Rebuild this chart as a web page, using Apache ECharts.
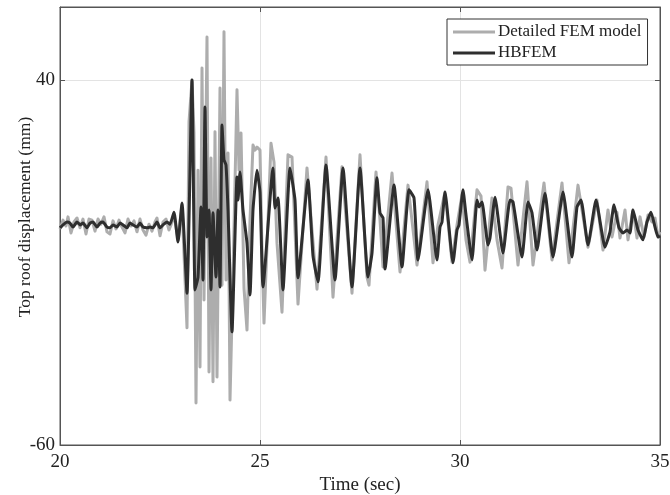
<!DOCTYPE html>
<html>
<head>
<meta charset="utf-8">
<script src="https://cdn.jsdelivr.net/npm/echarts@6/dist/echarts.min.js"></script>
<style>html,body{margin:0;padding:0;background:#fff}#c{width:670px;height:495px}</style>
</head>
<body>
<div id="c"></div>
<script>
// Detailed FEM model (time s, displacement mm)
const tDetailed = [20.0,20.075,20.15,20.2,20.275,20.35,20.425,20.5,20.575,20.65,20.725,20.8,20.875,20.95,21.025,21.1,21.175,21.25,21.325,21.4,21.475,21.55,21.625,21.7,21.775,21.85,21.925,22.0,22.075,22.15,22.225,22.3,22.375,22.425,22.5,22.575,22.65,22.725,22.775,22.85,22.95,23.05,23.175,23.225,23.3,23.35,23.4,23.45,23.5,23.55,23.6,23.675,23.725,23.775,23.825,23.875,23.925,24.0,24.05,24.1,24.15,24.2,24.25,24.325,24.425,24.475,24.525,24.6,24.675,24.75,24.825,24.875,24.925,25.0,25.05,25.1,25.275,25.35,25.425,25.55,25.7,25.8,25.95,26.175,26.3,26.425,26.65,26.825,27.05,27.3,27.5,27.675,27.725,27.9,28.0,28.075,28.3,28.5,28.7,28.925,29.175,29.325,29.45,29.625,29.8,29.925,30.05,30.15,30.25,30.425,30.525,30.625,30.8,30.925,31.05,31.2,31.275,31.45,31.675,31.825,32.1,32.3,32.55,32.725,32.95,33.2,33.425,33.575,33.7,33.8,33.925,34.0,34.125,34.2,34.325,34.425,34.5,34.6,34.7,34.8,34.875,34.95,35.0];
const vDetailed = [-0.8,1.6,0,2.5,-1.9,1.1,2.2,-0.5,1.9,-2.2,1.9,1.6,-1.4,1.9,0.5,2.5,-1.6,-2.2,1.4,-0.8,1.6,-0.3,-1.9,1.9,0,1.4,-1.6,1.9,-1.1,-2.5,0.5,-1.4,1.1,2.2,-2.7,1.1,1.9,-1.1,0.3,3.0,-3.8,5.8,-27.9,28.5,40.0,25.5,-48.5,15.3,-38.6,43.3,-20.3,51.8,-40.0,18.6,-42.7,25.8,-41.4,37.8,-16.2,53.2,-14.8,20.0,-47.7,-13.4,37.3,15.3,25.5,-17.0,-28.5,1.6,22.2,20.8,21.6,20.8,-6.6,-26.6,22.7,17.5,-4.7,-23.6,19.5,18.9,-21.4,15.9,-1.1,-17.3,18.9,-19.5,16.2,-18.4,19.5,-14.0,-16.2,14.8,1.6,-11.2,14.5,-12.6,11.2,-10.7,12.1,-10.1,0.3,9.3,-9.9,0.3,8.5,-3.8,-9.9,9.9,8.2,-12.1,7.7,-3.8,-11.5,10.7,10.4,-10.7,12.1,-10.7,11.8,-9.3,11.8,-10.1,11.2,-5.8,7.1,-6.6,4.4,-3.0,3.8,-3.3,4.4,-3.8,4.4,-3.3,2.5,-3.0,3.0,1.1,2.2,-3.0,-1.6];

// HBFEM (time s, displacement mm)
const tHBFEM = [20.0,20.075,20.175,20.25,20.325,20.425,20.5,20.575,20.675,20.75,20.825,20.925,21.0,21.075,21.175,21.25,21.325,21.425,21.5,21.575,21.675,21.75,21.825,21.925,22.0,22.075,22.175,22.25,22.325,22.425,22.5,22.575,22.675,22.75,22.85,22.95,23.05,23.175,23.3,23.375,23.45,23.525,23.575,23.625,23.675,23.725,23.775,23.825,23.9,23.95,24.0,24.05,24.1,24.15,24.2,24.3,24.425,24.45,24.5,24.575,24.675,24.75,24.825,24.925,25.0,25.075,25.325,25.375,25.45,25.575,25.75,25.875,25.95,26.2,26.325,26.45,26.65,26.875,27.075,27.3,27.5,27.7,27.8,27.925,28.0,28.075,28.125,28.35,28.55,28.725,28.85,28.95,29.2,29.425,29.5,29.55,29.625,29.825,29.925,29.975,30.075,30.15,30.3,30.425,30.475,30.55,30.7,30.75,30.875,31.075,31.25,31.325,31.55,31.7,31.8,31.925,32.125,32.325,32.575,32.8,32.925,33.025,33.2,33.4,33.625,33.75,33.85,33.975,34.075,34.175,34.25,34.325,34.45,34.575,34.675,34.775,34.875,34.95,35.0];
const vHBFEM = [-0.5,0.3,1.1,0.8,-0.3,1.1,0.3,0.8,-0.5,0.8,1.1,-0.3,0.8,1.1,-0.3,-0.5,0.3,-0.3,0.8,0.3,-0.5,0.8,0.3,-0.3,0.8,-0.3,-0.5,-0.3,-0.5,1.1,-0.5,0.3,1.1,0.5,3.8,-4.4,6.3,-18.4,40.0,-17.5,-14.0,5.2,-14.8,32.6,-3.0,4.4,-17.5,3.6,-14.0,4.4,-16.7,27.7,18.1,16.7,4.4,-29.0,13.4,7.1,14.8,4.4,-4.7,-18.9,4.4,15.3,9.3,-16.7,15.9,4.9,7.7,-17.5,15.9,7.1,-14.2,12.6,-8.2,-15.3,16.7,-14.8,15.9,-16.7,15.9,-14.0,-7.4,13.2,3.6,2.2,-11.8,11.2,-11.2,9.9,7.7,-9.3,9.9,-9.3,-0.3,1.1,9.3,-10.1,-1.1,0.3,9.9,3.0,-9.3,7.1,5.2,6.6,-5.2,-3.3,7.9,-7.4,7.1,6.6,-8.5,6.6,3.6,-6.6,9.0,-8.5,9.3,-8.5,5.2,7.1,-5.2,7.1,-5.8,-1.6,5.8,-0.5,-1.9,-1.1,-1.9,4.4,-1.1,-3.8,1.1,3.8,-0.3,-3.0,-2.7];

const xTicks = [20, 25, 30, 35];
const yTicks = [-60, 40];

const dDetailed = tDetailed.map((t, i) => [t, vDetailed[i]]);
const dHBFEM = tHBFEM.map((t, i) => [t, vHBFEM[i]]);

const font = 'Liberation Serif';
const axisCol = '#555555';
const chart = echarts.init(document.getElementById('c'), null, {renderer: 'canvas'});
chart.setOption({
  animation: false,
  backgroundColor: '#ffffff',
  grid: {left: 60, right: 10, top: 7, bottom: 50, show: true, borderColor: axisCol, borderWidth: 1,
         containLabel: false, outerBoundsMode: 'none'},
  legend: {
    orient: 'vertical', left: 447, top: 19,
    data: ['Detailed FEM model', 'HBFEM'],
    icon: 'rect',
    itemWidth: 42, itemHeight: 3, itemGap: 1,
    padding: [3, 6, 2, 6],
    borderColor: '#333', borderWidth: 1, borderRadius: 0,
    backgroundColor: '#fff',
    textStyle: {fontFamily: font, fontSize: 17, color: '#222', lineHeight: 20, padding: [0, 0, 0, -2]}
  },
  xAxis: [{
    type: 'value', min: xTicks[0], max: xTicks[xTicks.length - 1], interval: 5,
    name: 'Time (sec)', nameLocation: 'middle', nameGap: 31, nameMoveOverlap: false,
    nameTextStyle: {fontFamily: font, fontSize: 19, color: '#222'},
    axisLine: {show: true, onZero: false, lineStyle: {color: axisCol, width: 1}},
    axisTick: {show: true, inside: true, length: 5, lineStyle: {color: axisCol}},
    axisLabel: {fontFamily: font, fontSize: 19, color: '#222', margin: 8},
    splitLine: {show: true, lineStyle: {color: '#e3e3e3', width: 1}}
  }, {
    type: 'value', position: 'top', min: xTicks[0], max: xTicks[xTicks.length - 1], interval: 5,
    axisLine: {show: true, onZero: false, lineStyle: {color: axisCol}},
    axisTick: {show: true, inside: true, length: 5, lineStyle: {color: axisCol}},
    axisLabel: {show: false}, splitLine: {show: false}
  }],
  yAxis: [{
    type: 'value', min: yTicks[0], max: 60, interval: 100,
    name: 'Top roof displacement (mm)', nameLocation: 'middle', nameGap: 26, nameMoveOverlap: false,
    nameTextStyle: {fontFamily: font, fontSize: 17.5, color: '#222', padding: [0, 0, 0, 18]},
    axisLine: {show: true, onZero: false, lineStyle: {color: axisCol, width: 1}},
    axisTick: {show: true, inside: true, length: 5, lineStyle: {color: axisCol}},
    axisLabel: {fontFamily: font, fontSize: 19, color: '#222', margin: 5,
      formatter: v => (yTicks.indexOf(v) >= 0 ? String(v) : '')},
    splitLine: {show: true, lineStyle: {color: '#e3e3e3', width: 1}}
  }, {
    type: 'value', position: 'right', min: yTicks[0], max: 60, interval: 100,
    axisLine: {show: true, onZero: false, lineStyle: {color: axisCol}},
    axisTick: {show: true, inside: true, length: 5, lineStyle: {color: axisCol}},
    axisLabel: {show: false}, splitLine: {show: false}
  }],
  series: [{
    name: 'Detailed FEM model', type: 'line', data: dDetailed,
    xAxisIndex: 0, yAxisIndex: 0,
    symbol: 'none', color: '#adadad',
    lineStyle: {color: '#adadad', width: 3, join: 'round'}, z: 2
  }, {
    name: 'HBFEM', type: 'line', data: dHBFEM,
    xAxisIndex: 0, yAxisIndex: 0,
    symbol: 'none', color: '#2e2e2e', smooth: 0.15,
    lineStyle: {color: '#2e2e2e', width: 3, join: 'round'}, z: 3
  }]
});
</script>
</body>
</html>
